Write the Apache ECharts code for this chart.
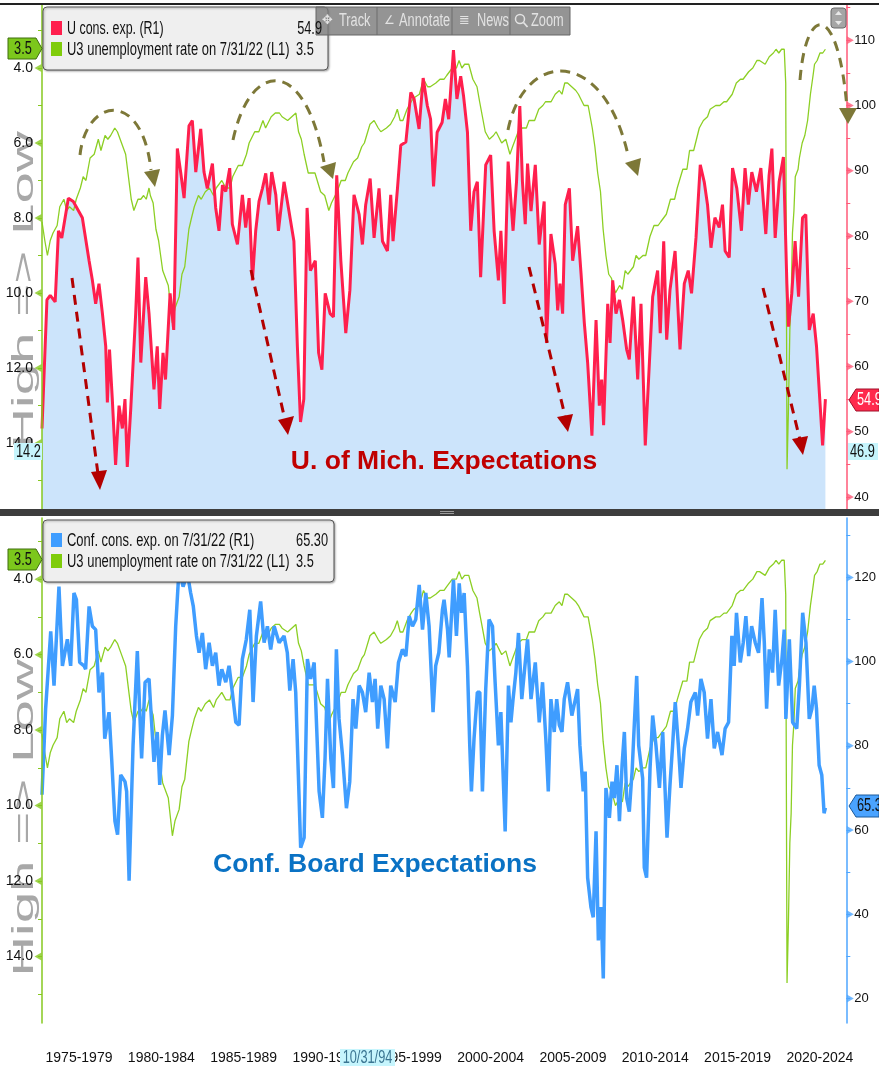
<!DOCTYPE html>
<html><head><meta charset="utf-8">
<script src="https://cdn.jsdelivr.net/npm/echarts@6/dist/echarts.min.js"></script>
<style>html,body{margin:0;padding:0;background:#fff}#c{width:879px;height:1068px}</style>
</head><body><div id="c"></div>
<script>
// ---------- data ----------
const umichYears = [
1975.00,1975.30,1975.50,1975.80,1976.00,1976.20,1976.60,1976.90,1977.45,1977.86,
1978.06,1978.26,1978.46,1978.67,1978.87,1978.97,1979.10,1979.27,1979.47,1979.68,
1979.88,1980.04,1980.18,1980.39,1980.69,1980.83,1981.00,1981.30,1981.50,1981.80,
1982.00,1982.15,1982.35,1982.50,1982.78,1983.00,1983.22,1983.42,1983.63,1983.93,
1984.13,1984.34,1984.64,1984.84,1985.04,1985.35,1985.55,1985.75,1985.96,1986.16,
1986.40,1986.56,1986.87,1987.17,1987.37,1987.58,1987.78,1987.98,1988.18,1988.39,
1988.59,1988.79,1988.95,1989.20,1989.36,1989.70,1990.00,1990.30,1990.51,1990.70,
1990.90,1991.10,1991.30,1991.60,1991.80,1992.00,1992.20,1992.50,1992.70,1992.90,
1993.15,1993.45,1993.70,1993.95,1994.26,1994.46,1994.66,1994.93,1995.17,1995.47,
1995.68,1995.98,1996.18,1996.32,1996.59,1996.79,1997.10,1997.40,1997.60,1997.90,
1998.15,1998.40,1998.60,1998.78,1999.00,1999.30,1999.50,1999.70,1999.99,2000.20,
2000.43,2000.60,2000.84,2001.04,2001.24,2001.44,2001.64,2001.95,2002.25,2002.46,
2002.72,2002.87,2003.07,2003.31,2003.61,2003.82,2004.02,2004.18,2004.35,2004.49,
2004.70,2004.96,2005.20,2005.50,2005.64,2005.91,2006.17,2006.32,2006.46,2006.62,
2006.78,2007.03,2007.23,2007.53,2007.74,2007.94,2008.14,2008.40,2008.65,2008.85,
2008.99,2009.11,2009.36,2009.50,2009.66,2009.86,2010.07,2010.27,2010.51,2010.67,
2010.92,2011.18,2011.38,2011.64,2011.84,2012.09,2012.39,2012.55,2012.76,2012.94,
2013.14,2013.45,2013.75,2014.01,2014.25,2014.45,2014.72,2014.98,2015.22,2015.42,
2015.63,2015.87,2016.13,2016.33,2016.49,2016.74,2016.94,2017.20,2017.48,2017.70,
2017.90,2018.11,2018.39,2018.66,2018.96,2019.16,2019.33,2019.53,2019.77,2020.03,
2020.24,2020.34,2020.54,2020.74,2020.95,2021.19,2021.39,2021.60,2021.84,2022.04,
2022.25,2022.41,2022.58];
const umichValues = [
50.5,70.2,70.9,69.9,80.8,79.7,85.8,85.3,82.8,76.2,
73.2,69.6,72.7,68.1,63.1,54.5,62.6,55.0,44.9,54.0,
50.5,55.0,44.6,53.5,68.1,76.7,60.6,73.7,68.1,56.5,
63.1,53.5,62.1,58.0,71.2,65.6,93.4,89.8,85.8,96.9,
97.7,89.8,96.4,89.8,87.3,91.1,84.3,80.8,87.8,86.8,
90.4,81.8,78.7,86.3,81.3,85.8,73.2,80.8,85.3,87.3,
89.6,84.8,89.8,86.3,80.8,88.3,83.8,79.2,63.1,51.5,
55.0,84.3,74.7,76.2,62.1,59.5,71.2,68.1,67.6,89.3,
76.2,65.1,71.7,86.3,83.3,78.7,84.8,88.8,79.7,87.3,
79.2,77.7,86.3,79.2,87.3,93.9,94.4,102.0,101.0,96.4,
104.2,100.0,97.9,87.6,95.9,97.4,101.0,97.9,108.5,101.0,
104.5,101.5,95.9,80.8,86.8,88.3,73.7,90.9,92.4,80.8,
73.2,80.8,69.6,91.4,80.8,88.3,99.9,88.3,81.8,91.1,
83.8,90.9,78.7,85.3,63.6,80.3,75.7,68.6,72.7,68.1,
84.8,87.3,76.2,81.5,74.2,66.6,60.6,49.4,67.1,54.0,
58.0,51.0,69.6,63.6,73.2,68.1,70.2,67.1,62.6,61.1,
70.7,58.0,69.6,47.9,58.0,70.7,74.7,65.1,79.2,64.1,
71.7,77.7,62.6,72.7,74.7,71.2,79.7,90.9,88.3,84.8,
78.2,82.8,81.3,84.8,77.7,76.7,90.4,87.3,80.8,90.4,
84.8,89.8,86.8,90.4,80.3,89.3,93.4,79.7,88.3,92.1,
72.7,66.1,71.2,79.2,70.7,82.8,83.3,65.6,68.1,63.1,
54.5,47.9,55.0];

const confYears = [
1975.00,1975.22,1975.53,1975.73,1976.03,1976.24,1976.54,1976.74,1976.94,1977.09,
1977.29,1977.55,1977.65,1977.86,1978.06,1978.26,1978.46,1978.67,1978.81,1979.07,
1979.23,1979.43,1979.59,1979.78,1980.04,1980.14,1980.29,1980.53,1980.79,1980.93,
1981.05,1981.26,1981.50,1981.80,1982.00,1982.15,1982.31,1982.47,1982.72,1982.92,
1983.12,1983.32,1983.57,1983.83,1984.03,1984.19,1984.38,1984.54,1984.74,1984.94,
1985.15,1985.35,1985.55,1985.75,1985.92,1986.16,1986.36,1986.56,1986.77,1986.97,
1987.17,1987.41,1987.62,1987.82,1988.02,1988.28,1988.49,1988.69,1988.89,1989.10,
1989.40,1989.70,1989.90,1990.05,1990.25,1990.41,1990.57,1990.71,1990.92,1991.12,
1991.32,1991.53,1991.83,1992.03,1992.19,1992.34,1992.54,1992.70,1992.88,1993.04,
1993.25,1993.49,1993.69,1993.89,1994.06,1994.26,1994.46,1994.66,1994.87,1995.07,
1995.23,1995.39,1995.58,1995.78,1995.98,1996.18,1996.45,1996.65,1996.89,1997.10,
1997.30,1997.50,1997.70,1997.91,1998.11,1998.31,1998.51,1998.75,1998.91,1999.10,
1999.32,1999.42,1999.63,1999.73,1999.99,2000.17,2000.34,2000.48,2000.64,2000.84,
2000.98,2001.08,2001.24,2001.44,2001.59,2001.75,2001.95,2002.15,2002.36,2002.52,
2002.72,2002.87,2003.13,2003.33,2003.48,2003.61,2003.78,2003.94,2004.14,2004.35,
2004.49,2004.70,2004.96,2005.20,2005.40,2005.60,2005.75,2005.91,2006.11,2006.26,
2006.42,2006.58,2006.72,2006.92,2007.18,2007.53,2007.67,2007.87,2007.99,2008.14,
2008.34,2008.48,2008.65,2008.79,2008.95,2009.09,2009.25,2009.46,2009.62,2009.76,
2009.92,2010.07,2010.23,2010.37,2010.51,2010.67,2010.84,2010.98,2011.12,2011.24,
2011.48,2011.58,2011.72,2011.93,2012.09,2012.29,2012.50,2012.70,2012.96,2013.14,
2013.30,2013.46,2013.65,2013.81,2014.01,2014.21,2014.41,2014.68,2014.82,2015.02,
2015.22,2015.42,2015.63,2015.83,2016.03,2016.30,2016.49,2016.70,2016.90,2017.04,
2017.18,2017.41,2017.59,2017.75,2017.92,2018.10,2018.32,2018.52,2018.73,2018.87,
2019.01,2019.17,2019.37,2019.53,2019.74,2019.94,2020.08,2020.18,2020.39,2020.59,
2020.84,2021.00,2021.20,2021.40,2021.60,2021.76,2021.90,2022.04,2022.20,2022.36,
2022.50,2022.58];
const confValues = [
68.4,88.8,107.2,94.3,117.8,99.0,105.3,99.0,116.3,114.7,
99.8,99.0,98.2,113.1,108.4,107.6,92.7,97.4,81.7,88.0,
77.0,62.1,58.9,73.1,71.5,69.2,48.0,80.1,102.5,88.8,
77.0,95.1,95.9,76.2,83.3,70.7,82.5,88.4,77.8,87.2,
108.4,121.8,117.8,121.0,116.3,113.1,106.1,102.1,106.8,98.2,
104.5,99.0,102.1,94.3,98.2,95.1,99.0,92.7,85.6,84.9,
100.6,105.3,112.3,90.4,106.1,114.3,104.5,108.4,102.9,108.4,
104.5,106.1,102.1,93.1,100.6,92.7,73.1,55.8,58.2,100.6,
95.9,99.8,69.2,62.9,77.0,95.9,77.0,70.0,102.9,86.4,
77.8,65.2,71.5,91.1,84.1,94.3,92.7,88.0,97.4,90.4,
95.9,84.1,94.3,91.1,79.4,94.3,90.4,99.8,102.9,101.3,
110.8,108.4,110.0,118.2,107.6,116.3,108.4,88.0,99.0,102.1,
112.3,114.7,107.6,101.0,119.4,106.1,118.6,111.6,116.3,99.0,
80.1,69.2,81.7,92.7,92.7,69.2,93.5,110.0,108.4,95.1,
80.1,88.0,59.7,94.3,85.6,91.1,97.4,106.8,91.1,99.8,
105.3,91.1,99.8,85.6,95.1,81.7,69.2,91.1,83.3,91.1,
84.9,83.3,91.1,95.1,87.2,93.5,80.1,69.2,73.9,48.7,
41.7,39.3,59.7,33.8,41.7,24.8,70.0,62.9,71.5,67.6,
75.4,62.1,75.4,83.3,67.6,64.4,73.9,85.6,96.6,80.1,
72.3,51.1,48.7,74.7,87.2,80.1,70.0,83.3,58.2,70.7,
80.1,90.4,80.1,70.0,79.4,84.1,90.4,92.7,87.2,95.9,
92.7,81.7,91.1,79.4,83.3,77.8,84.1,85.6,106.1,99.0,
111.6,99.8,104.5,110.8,101.3,108.4,104.5,102.1,115.1,104.5,
88.8,102.9,97.4,112.3,94.3,100.6,107.6,86.4,105.3,85.6,
84.1,94.3,111.6,104.5,86.4,88.8,94.3,88.8,75.4,73.1,
64.0,65.3];

const unempYears = [
1975.00,1975.17,1975.33,1975.50,1975.67,1975.92,1976.08,1976.33,1976.50,1976.67,
1976.92,1977.08,1977.33,1977.50,1977.67,1977.92,1978.17,1978.42,1978.58,1978.83,
1979.00,1979.17,1979.42,1979.58,1979.83,1980.08,1980.25,1980.42,1980.58,1980.83,
1981.00,1981.17,1981.33,1981.50,1981.58,1981.75,1981.92,1982.08,1982.33,1982.50,
1982.67,1982.92,1983.08,1983.33,1983.50,1983.67,1983.92,1984.08,1984.25,1984.50,
1984.67,1984.92,1985.17,1985.42,1985.58,1985.92,1986.17,1986.42,1986.58,1986.92,
1987.17,1987.42,1987.58,1987.92,1988.17,1988.42,1988.58,1988.92,1989.17,1989.42,
1989.58,1989.92,1990.17,1990.42,1990.58,1990.75,1990.92,1991.17,1991.42,1991.58,
1991.92,1992.17,1992.42,1992.58,1992.92,1993.17,1993.42,1993.58,1993.92,1994.17,
1994.42,1994.58,1994.92,1995.17,1995.42,1995.58,1995.92,1996.17,1996.42,1996.58,
1996.75,1996.92,1997.17,1997.42,1997.58,1997.92,1998.17,1998.42,1998.58,1998.92,
1999.17,1999.42,1999.58,1999.92,2000.17,2000.33,2000.50,2000.67,2000.92,2001.17,
2001.42,2001.58,2001.75,2001.92,2002.17,2002.42,2002.58,2002.92,2003.17,2003.42,
2003.58,2003.92,2004.17,2004.42,2004.58,2004.92,2005.17,2005.42,2005.58,2005.92,
2006.17,2006.42,2006.58,2006.75,2006.92,2007.17,2007.42,2007.58,2007.92,2008.17,
2008.42,2008.58,2008.75,2008.92,2009.08,2009.25,2009.42,2009.58,2009.83,2010.08,
2010.25,2010.42,2010.58,2010.92,2011.08,2011.25,2011.50,2011.67,2011.92,2012.17,
2012.42,2012.58,2012.92,2013.17,2013.42,2013.58,2013.92,2014.17,2014.33,2014.58,
2014.92,2015.17,2015.42,2015.58,2015.92,2016.17,2016.42,2016.58,2016.92,2017.17,
2017.42,2017.58,2017.92,2018.17,2018.42,2018.58,2018.92,2019.17,2019.42,2019.58,
2019.75,2019.92,2020.08,2020.17,2020.25,2020.33,2020.42,2020.50,2020.58,2020.67,
2020.75,2020.92,2021.00,2021.17,2021.33,2021.50,2021.67,2021.83,2021.92,2022.08,
2022.25,2022.42,2022.58];
const unempValues = [
8.1,8.6,9.0,8.6,8.4,8.2,7.7,7.5,7.8,7.7,
7.8,7.5,7.2,6.9,7.0,6.4,6.3,5.9,6.2,5.8,
5.9,5.8,5.6,5.7,6.0,6.3,6.9,7.5,7.8,7.5,
7.5,7.4,7.5,7.2,7.4,7.6,8.3,8.6,9.4,9.6,
9.8,10.8,10.4,10.1,9.5,9.3,8.3,8.0,7.7,7.4,
7.5,7.3,7.2,7.4,7.2,7.0,7.2,7.2,6.9,6.6,
6.6,6.3,6.0,5.7,5.7,5.4,5.6,5.3,5.2,5.2,
5.3,5.4,5.3,5.2,5.7,5.9,6.3,6.8,6.8,6.8,
7.3,7.4,7.8,7.6,7.3,7.0,7.0,6.8,6.5,6.4,
6.1,6.0,5.5,5.4,5.6,5.7,5.6,5.5,5.3,5.1,
5.4,5.4,5.1,4.9,4.8,4.7,4.3,4.5,4.5,4.4,
4.3,4.3,4.2,4.0,4.0,3.8,4.0,3.9,3.9,4.3,
4.5,4.9,5.3,5.7,5.9,5.8,5.7,6.0,5.9,6.3,
6.1,5.7,5.6,5.6,5.4,5.4,5.1,5.0,4.9,4.9,
4.7,4.6,4.7,4.4,4.4,4.5,4.6,4.7,5.0,5.0,
5.6,6.1,6.8,7.3,8.3,9.0,9.5,9.6,10.0,9.8,
9.9,9.4,9.5,9.3,9.0,9.1,9.0,9.0,8.5,8.2,
8.2,8.1,7.9,7.5,7.5,7.2,6.7,6.7,6.2,6.2,
5.6,5.4,5.3,5.1,5.0,5.0,4.9,4.9,4.7,4.4,
4.3,4.3,4.1,4.0,3.8,3.8,3.9,3.7,3.6,3.5,
3.6,3.5,3.5,4.4,14.7,13.2,11.0,10.2,8.4,7.8,
6.9,6.7,6.4,6.0,5.8,5.4,4.7,4.2,3.9,3.8,
3.6,3.6,3.5];

const periodStarts = [1975,1980,1985,1990,1995,2000,2005,2010,2015,2020];
const periodLabels = ['1975-1979','1980-1984','1985-1989','1990-1994','1995-1999','2000-2004','2005-2009','2010-2014','2015-2019','2020-2024'];
const unempLabelTicks = [4,6,8,10,12,14];
const unempMinorTicks = [3,4,5,6,7,8,9,10,11,12,13,14,15];
const umichLabelTicks = [40,50,60,70,80,90,100,110];
const umichMinorTicks = [40,45,50,55,60,65,70,75,80,85,90,95,100,105,110,115];
const confLabelTicks = [20,40,60,80,100,120];
const confMinorTicks = [20,30,40,50,60,70,80,90,100,110,120,130];

// ---------- chart ----------
const pairs = (xs, ys) => xs.map((x, i) => [x, ys[i]]);
const umich = pairs(umichYears, umichValues);
const conf = pairs(confYears, confValues);
const unemp = pairs(unempYears, unempValues);

const SANS = '"Liberation Sans",Arial,sans-serif';
const GREEN = '#8ccf24', GREEN_AX = '#86c81f', RED = '#ff1f4d', RED_AX = '#ff5a78', BLUE = '#3f9dff', BLUE_AX = '#4ea6ff';
const xMin = 1975, xMax = 2023.85;

function yAx(grid, pos, min, max, inverse, color, minor, major, fmt, fs) {
  return {
    gridIndex: grid, type: 'value', position: pos, inverse: inverse, min: min, max: max,
    axisLine: { show: true, lineStyle: { color: color, width: 1.5 } },
    axisTick: { show: true, customValues: minor, length: 4, lineStyle: { color: color, width: 1 } },
    axisLabel: { customValues: major, formatter: fmt, color: '#111', fontSize: fs, fontFamily: SANS, margin: pos === 'left' ? 9 : 8 },
    splitLine: { show: false }, z: 5
  };
}
function marker(xi, yi, xv, vals, rot, off, color) {
  return { type: 'scatter', xAxisIndex: xi, yAxisIndex: yi, data: vals.map(v => [xv, v]), symbol: 'triangle',
    symbolSize: [8, 7], symbolRotate: rot, symbolOffset: [off, 0], itemStyle: { color: color }, silent: true, clip: false, z: 6 };
}

const T = (x, y, text, st, sx) => ({ type: 'text', x: x, y: y, z: 60, silent: true, scaleX: sx || 0.71,
  style: Object.assign({ text: text, fill: '#111', font: '18px ' + SANS, align: 'left', verticalAlign: 'middle', textAlign: 'left', textVerticalAlign: 'middle' }, st || {}) });
const R = (x, y, w, h, st, r) => ({ type: 'rect', z: 55, silent: true, shape: { x: x, y: y, width: w, height: h, r: r || 0 }, style: st });
const P = (pts, st) => ({ type: 'polygon', z: 58, silent: true, shape: { points: pts }, style: st });
const L = (x1, y1, x2, y2, st) => ({ type: 'line', z: 58, silent: true, shape: { x1: x1, y1: y1, x2: x2, y2: y2 }, style: st });
const B = (p, st) => ({ type: 'bezierCurve', z: 58, silent: true, shape: { x1: p[0], y1: p[1], cpx1: p[2], cpy1: p[3], cpx2: p[4], cpy2: p[5], x2: p[6], y2: p[7] }, style: Object.assign({ fill: 'none' }, st) });

const OLIVE = { stroke: '#7d7838', lineWidth: 3, lineDash: [10, 7] };
const OLIVE_F = { fill: '#7d7838' };
const DRED = { stroke: '#b30000', lineWidth: 3, lineDash: [10, 7] };
const DRED_F = { fill: '#b30000' };
const TB = { fill: '#e2e2e2' };
const SIDE = { font: '29px ' + SANS, fill: '#a8a8a8', align: 'center', verticalAlign: 'middle', textAlign: 'center', textVerticalAlign: 'middle' };

const graphics = [
  R(0, 3, 879, 2, { fill: '#222' }),
  R(0, 509, 879, 7, { fill: '#3d3d3d' }),
  L(440, 511.5, 454, 511.5, { stroke: '#9a9a9a', lineWidth: 1 }),
  L(440, 513.5, 454, 513.5, { stroke: '#9a9a9a', lineWidth: 1 }),
  // rotated side titles (drawn first, beneath everything else)
  { type: 'text', x: 25, y: 290, rotation: Math.PI / 2, scaleX: 1.95, z: 0, silent: true, style: Object.assign({ text: 'High => Low' }, SIDE) },
  { type: 'text', x: 25, y: 818, rotation: Math.PI / 2, scaleX: 1.95, z: 0, silent: true, style: Object.assign({ text: 'High => Low' }, SIDE) },
  // top legend
  R(43, 7, 285, 63, { fill: '#efefef', stroke: '#555', lineWidth: 1, shadowBlur: 2, shadowColor: 'rgba(0,0,0,0.3)', shadowOffsetX: 1, shadowOffsetY: 1 }, 4),
  R(51, 21, 11, 14, { fill: RED }),
  R(51, 42, 11, 14, { fill: '#7fcc0a' }),
  T(67, 29, 'U cons. exp. (R1)', null, 0.69),
  T(322, 29, '54.9', { align: 'right', textAlign: 'right' }),
  T(67, 50, 'U3 unemployment rate on 7/31/22 (L1)', null, 0.72),
  T(296, 50, '3.5'),
  // bottom legend
  R(43, 520, 291, 62, { fill: '#efefef', stroke: '#555', lineWidth: 1, shadowBlur: 2, shadowColor: 'rgba(0,0,0,0.3)', shadowOffsetX: 1, shadowOffsetY: 1 }, 4),
  R(51, 533, 11, 14, { fill: BLUE }),
  R(51, 554, 11, 14, { fill: '#7fcc0a' }),
  T(67, 541, 'Conf. cons. exp. on 7/31/22 (R1)', null, 0.72),
  T(328, 541, '65.30', { align: 'right', textAlign: 'right' }),
  T(67, 562, 'U3 unemployment rate on 7/31/22 (L1)', null, 0.72),
  T(296, 562, '3.5'),
  // toolbar
  R(316, 7, 254, 28, { fill: 'rgba(125,125,125,0.82)', stroke: '#666', lineWidth: 1 }),
  L(377, 7, 377, 35, { stroke: '#6c6c6c', lineWidth: 1 }),
  L(452, 7, 452, 35, { stroke: '#6c6c6c', lineWidth: 1 }),
  L(510, 7, 510, 35, { stroke: '#6c6c6c', lineWidth: 1 }),
  T(322, 21, '\u2725', { fill: '#e2e2e2', font: '13px "DejaVu Sans",sans-serif' }, 1),
  T(339, 21, 'Track', TB),
  T(384, 21, '\u2220', { fill: '#e2e2e2', font: '12px "DejaVu Sans",sans-serif' }, 1),
  T(399, 21, 'Annotate', TB),
  T(459, 21, '\u2263', { fill: '#e2e2e2', font: '13px "DejaVu Sans",sans-serif' }, 1),
  T(477, 21, 'News', TB),
  { type: 'circle', z: 60, silent: true, shape: { cx: 520, cy: 19, r: 4.5 }, style: { fill: 'none', stroke: '#e2e2e2', lineWidth: 1.5 } },
  L(523.5, 22.5, 527.5, 27, { stroke: '#e2e2e2', lineWidth: 1.8 }),
  T(531, 21, 'Zoom', TB),
  // scroll widget
  R(831, 8, 15, 20, { fill: '#a5a5a5', stroke: '#6a6a6a', lineWidth: 1 }, 3),
  P([[838.5, 11], [835, 15], [842, 15]], { fill: '#e8e8e8' }),
  P([[838.5, 25], [835, 21], [842, 21]], { fill: '#e8e8e8' }),
  // value tags
  P([[8, 38], [36, 38], [42, 48.5], [36, 59], [8, 59]], { fill: '#7cc71c', stroke: '#3f6e0c', lineWidth: 1 }),
  T(23, 49, '3.5', { align: 'center', textAlign: 'center' }),
  P([[8, 549], [36, 549], [42, 559.5], [36, 570], [8, 570]], { fill: '#7cc71c', stroke: '#3f6e0c', lineWidth: 1 }),
  T(23, 560, '3.5', { align: 'center', textAlign: 'center' }),
  P([[849, 400], [856, 389], [879, 389], [879, 411], [856, 411]], { fill: '#ff2a4d', stroke: '#a0102a', lineWidth: 1 }),
  T(857, 400, '54.9', { fill: '#fff' }),
  P([[849, 806], [856, 795], [879, 795], [879, 817], [856, 817]], { fill: '#4aa3ff', stroke: '#1c5a9a', lineWidth: 1 }),
  T(857, 806, '65.3'),
  R(848, 443, 30, 17, { fill: '#c6f5fd' }),
  T(850, 452, '46.9'),
  R(14, 443, 28, 17, { fill: '#c6f5fd' }),
  T(16, 452, '14.2'),
  R(340, 1049, 55, 17, { fill: '#c6f5fd' }),
  T(367.5, 1058, '10/31/94', { align: 'center', textAlign: 'center', fill: '#3b7592' }),
  // panel titles
  T(444, 462, 'U. of Mich. Expectations', { align: 'center', textAlign: 'center', fill: '#c00000', font: 'bold 26.5px ' + SANS }, 1),
  T(375, 865, 'Conf. Board Expectations', { align: 'center', textAlign: 'center', fill: '#0a72c4', font: 'bold 26.5px ' + SANS }, 1),
  // olive arcs
  B([80, 155, 86, 98, 142, 88, 151, 170], OLIVE),
  P([[155, 187], [144, 172], [160, 169]], OLIVE_F),
  B([233, 140, 250, 60, 305, 55, 324, 162], OLIVE),
  P([[333, 179], [320, 167], [336, 162]], OLIVE_F),
  B([508, 130, 524, 50, 603, 45, 628, 155], OLIVE),
  P([[638, 176], [625, 163], [641, 158]], OLIVE_F),
  B([800, 80, 806, 4, 838, 0, 847, 108], OLIVE),
  P([[848, 124], [839, 108], [857, 108]], OLIVE_F),
  // dark red arrows
  L(72, 278, 98, 474, DRED), P([[100, 490], [91, 472], [107, 470]], DRED_F),
  L(251, 270, 285, 420, DRED), P([[288, 435], [278, 420], [294, 416]], DRED_F),
  L(529, 267, 565, 416, DRED), P([[568, 432], [557, 417], [573, 414]], DRED_F),
  L(763, 288, 800, 440, DRED), P([[803, 455], [792, 439], [808, 436]], DRED_F)
];

const option = {
  animation: false,
  backgroundColor: '#fff',
  grid: [
    { left: 42, right: 31, top: 5, height: 507 },
    { left: 42, right: 31, top: 518, height: 505 }
  ],
  xAxis: [
    { gridIndex: 0, type: 'value', min: xMin, max: xMax, show: false, splitLine: { show: false } },
    { gridIndex: 1, type: 'value', min: xMin, max: xMax, interval: 5,
      axisLine: { show: false }, axisTick: { show: false }, splitLine: { show: false },
      axisLabel: { customValues: periodStarts,
        formatter: v => periodLabels[periodStarts.indexOf(Math.round(v))] || '',
        color: '#111', fontSize: 14, fontFamily: SANS, margin: 28, padding: [0, 0, 0, 74] } }
  ],
  yAxis: [
    yAx(0, 'left', 2.32, 15.84, true, GREEN_AX, unempMinorTicks, unempLabelTicks, v => v.toFixed(1), 14),
    yAx(0, 'right', 37.7, 115.4, false, RED_AX, umichMinorTicks, umichLabelTicks, v => String(v), 13),
    yAx(1, 'left', 2.38, 15.76, true, GREEN_AX, unempMinorTicks, unempLabelTicks, v => v.toFixed(1), 14),
    yAx(1, 'right', 14.2, 134.1, false, BLUE_AX, confMinorTicks, confLabelTicks, v => String(v), 13)
  ],
  series: [
    { name: 'area', type: 'line', xAxisIndex: 0, yAxisIndex: 1, data: umich, showSymbol: false, silent: true,
      lineStyle: { width: 0, opacity: 0 }, areaStyle: { color: '#cce4fb', opacity: 1, origin: 'start' }, z: 1 },
    { name: 'U3 top', type: 'line', xAxisIndex: 0, yAxisIndex: 0, data: unemp, showSymbol: false,
      lineStyle: { color: GREEN, width: 1.3 }, z: 2 },
    { name: 'U cons. exp.', type: 'line', xAxisIndex: 0, yAxisIndex: 1, data: umich, showSymbol: false,
      lineStyle: { color: RED, width: 3 }, z: 3 },
    { name: 'U3 bottom', type: 'line', xAxisIndex: 1, yAxisIndex: 2, data: unemp, showSymbol: false,
      lineStyle: { color: GREEN, width: 1.3 }, z: 2 },
    { name: 'Conf. cons. exp.', type: 'line', xAxisIndex: 1, yAxisIndex: 3, data: conf, showSymbol: false,
      lineStyle: { color: BLUE, width: 3.5 }, z: 3 },
    marker(0, 0, xMin, unempLabelTicks, 90, -4, GREEN_AX),
    marker(0, 1, xMax, umichLabelTicks, -90, 4, RED_AX),
    marker(1, 2, xMin, unempLabelTicks, 90, -4, GREEN_AX),
    marker(1, 3, xMax, confLabelTicks, -90, 4, BLUE_AX)
  ],
  graphic: { elements: graphics }
};

const chart = echarts.init(document.getElementById('c'), null, { renderer: 'canvas' });
chart.setOption(option);
</script>
</body></html>
